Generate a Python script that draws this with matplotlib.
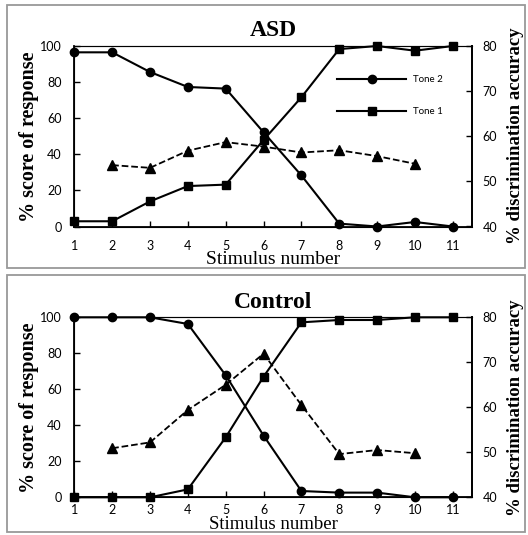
import matplotlib
matplotlib.use("Agg")
import matplotlib.pyplot as plt
from matplotlib.patches import Rectangle

stimulus = [1, 2, 3, 4, 5, 6, 7, 8, 9, 10, 11]
disc_x = [2, 3, 4, 5, 6, 7, 8, 9, 10]

# ASD group
asd_tone2 = [96.5, 96.5, 85.6, 77.3, 76.4, 52.2, 28.3, 1.6, 0, 2.5, 0]
asd_tone1 = [2.9, 2.9, 13.9, 22.4, 23.2, 47.9, 71.6, 98.3, 100, 97.4, 100]
asd_disc = [53.6, 53.0, 56.8, 58.7, 57.7, 56.4, 56.9, 55.6, 53.9]

# Control group
ctl_tone2 = [100, 100, 100, 96.3, 67.8, 34.3, 3.5, 2.6, 2.6, 0, 0]
ctl_tone1 = [0, 0, 0, 4.4, 33.3, 67, 97.2, 98.5, 98.5, 100, 100]
ctl_disc = [50.9, 52.2, 59.4, 65.0, 71.9, 60.5, 49.6, 50.5, 49.8]

serif = "Liberation Serif"
sans = "Lato"

fig = plt.figure(figsize=(5.28, 5.35), dpi=100)

# grey boxes round each panel
for y0, h in [(1 - 268 / 535, 263 / 535), (1 - 532 / 535, 257 / 535)]:
    fig.patches.append(Rectangle((7 / 528, y0), 518 / 528, h, transform=fig.transFigure,
                                 fill=False, edgecolor="#999999", lw=1.3))


def panel(rect, title, tone2, tone1, disc, xtpad, xpad, xsize, legend=False):
    ax = fig.add_axes(rect)
    l2, = ax.plot(stimulus, tone2, "k-", marker="o", ms=6, lw=1.5, label="Tone 2", clip_on=False, zorder=3)
    l1, = ax.plot(stimulus, tone1, "k-", marker="s", ms=6, lw=1.5, label="Tone 1", clip_on=False, zorder=3)
    ax.set_xlim(1, 11.5)
    ax.set_ylim(0, 100)
    ax.set_xticks(stimulus)
    ax.set_yticks(range(0, 101, 20))
    ax.tick_params(direction="in", length=4, width=1, labelsize=9)
    ax.tick_params(axis="y", pad=9)
    ax.tick_params(axis="x", pad=xtpad)
    for lab in ax.get_xticklabels() + ax.get_yticklabels():
        lab.set_fontfamily(sans)
    for s in ["left", "bottom", "right"]:
        ax.spines[s].set_linewidth(1.3)
    ax.spines["top"].set_color("#555555")
    ax.set_ylabel("% score of response", fontfamily=serif, fontweight="bold", fontsize=14.5, labelpad=1)
    ax.set_xlabel("Stimulus number", fontfamily=serif, fontsize=xsize, labelpad=xpad)
    ax.set_title(title, fontfamily=serif, fontweight="bold", fontsize=17, pad=7)

    ax2 = ax.twinx()
    ax2.plot(disc_x, disc, "k--", marker="^", ms=6.5, lw=1.3, zorder=3)
    ax2.set_ylim(40, 80)
    ax2.set_yticks(range(40, 81, 10))
    ax2.tick_params(direction="in", length=4, width=1, labelsize=9, pad=8)
    for lab in ax2.get_yticklabels():
        lab.set_fontfamily(sans)
    ax2.spines["right"].set_linewidth(1.3)
    ax2.set_ylabel("% discrimination accuracy", fontfamily=serif, fontweight="bold", fontsize=13.5, labelpad=7)

    if legend:
        ax.legend(handles=[l2, l1], loc="upper left", bbox_to_anchor=(337 / 528, 1 - 75 / 535),
                  bbox_transform=fig.transFigure, frameon=False, prop={"family": sans, "size": 7},
                  handlelength=7.1, handletextpad=0.7, labelspacing=2.4, borderpad=0, borderaxespad=0)
    return ax


panel([74.3 / 528, 1 - 226.5 / 535, 397.4 / 528, 180.5 / 535], "ASD", asd_tone2, asd_tone1, asd_disc,
      xtpad=10, xpad=-1, xsize=14, legend=True)
panel([74.3 / 528, 1 - 497.3 / 535, 397.4 / 528, 180 / 535], "Control", ctl_tone2, ctl_tone1, ctl_disc,
      xtpad=5, xpad=0, xsize=13.5)

fig.savefig("out.png", dpi=100)
